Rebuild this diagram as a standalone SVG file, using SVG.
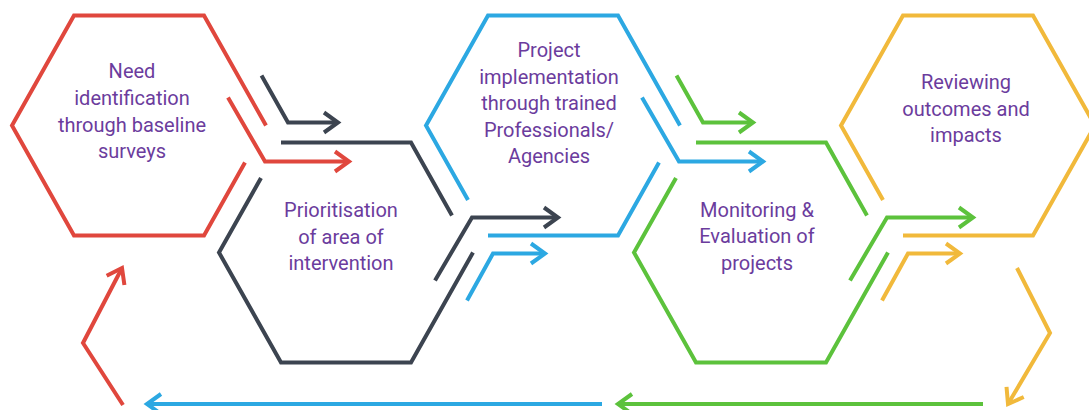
<svg xmlns="http://www.w3.org/2000/svg" width="1089" height="410" viewBox="0 0 1089 410">
<style>
.hx{fill:none;stroke-width:4;stroke-linejoin:miter}
.ar{fill:none;stroke-width:4;stroke-linejoin:miter}
.red{stroke:#e0473d}
.dark{stroke:#3c4450}
.blue{stroke:#2ca8e2}
.green{stroke:#5cc23c}
.yellow{stroke:#f1b93b}
text{font-family:Roboto,"Liberation Sans",sans-serif;font-size:20px;fill:#6b3c9d;text-anchor:middle}
</style>
<defs>
<marker id="mRed" markerUnits="userSpaceOnUse" markerWidth="30" markerHeight="30" viewBox="-20 -15 30 30" refX="0" refY="0" orient="auto" overflow="visible"><path d="M-14,-10 L0,0 L-14,10" fill="none" stroke="#e0473d" stroke-width="4"/></marker>
<marker id="mDark" markerUnits="userSpaceOnUse" markerWidth="30" markerHeight="30" viewBox="-20 -15 30 30" refX="0" refY="0" orient="auto" overflow="visible"><path d="M-14,-10 L0,0 L-14,10" fill="none" stroke="#3c4450" stroke-width="4"/></marker>
<marker id="mBlue" markerUnits="userSpaceOnUse" markerWidth="30" markerHeight="30" viewBox="-20 -15 30 30" refX="0" refY="0" orient="auto" overflow="visible"><path d="M-14,-10 L0,0 L-14,10" fill="none" stroke="#2ca8e2" stroke-width="4"/></marker>
<marker id="mGreen" markerUnits="userSpaceOnUse" markerWidth="30" markerHeight="30" viewBox="-20 -15 30 30" refX="0" refY="0" orient="auto" overflow="visible"><path d="M-14,-10 L0,0 L-14,10" fill="none" stroke="#5cc23c" stroke-width="4"/></marker>
<marker id="mYellow" markerUnits="userSpaceOnUse" markerWidth="30" markerHeight="30" viewBox="-20 -15 30 30" refX="0" refY="0" orient="auto" overflow="visible"><path d="M-14,-10 L0,0 L-14,10" fill="none" stroke="#f1b93b" stroke-width="4"/></marker>
</defs>
<rect width="1089" height="410" fill="#ffffff"/>

<g id="node-need">
<g transform="translate(139,125.5)">
<path class="hx red" d="M106,37 L65,110 L-65,110 L-127,0 L-65,-110 L65,-110 L127,0"/>
</g>
<text x="132" y="78">Need</text>
<text x="132" y="105">identification</text>
<text x="132" y="132">through baseline</text>
<text x="132" y="158">surveys</text>
</g>

<g id="node-prioritisation">
<g transform="translate(346,252.5)">
<path class="hx dark" d="M127,0 L65,110 L-65,110 L-127,0 L-85,-74.5"/>
<path class="hx dark" d="M-65,-110 L65,-110 L106,-37"/>
</g>
<text x="341" y="217">Prioritisation</text>
<text x="341" y="243.5">of area of</text>
<text x="341" y="270">intervention</text>
</g>

<g id="node-implementation">
<g transform="translate(553,125.5)">
<path class="hx blue" d="M106,37 L65,110 L-65,110"/>
<path class="hx blue" d="M-85,74.5 L-127,0 L-65,-110 L65,-110 L127,0"/>
</g>
<text x="549" y="57">Project</text>
<text x="549" y="83.5">implementation</text>
<text x="549" y="110">through trained</text>
<text x="549" y="136.5">Professionals/</text>
<text x="549" y="163">Agencies</text>
</g>

<g id="node-monitoring">
<g transform="translate(761,252.5)">
<path class="hx green" d="M127,0 L65,110 L-65,110 L-127,0 L-85,-74.5"/>
<path class="hx green" d="M-65,-110 L65,-110 L106,-37"/>
</g>
<text x="757" y="216.5">Monitoring &amp;</text>
<text x="757" y="243">Evaluation of</text>
<text x="757" y="269.5">projects</text>
</g>

<g id="node-reviewing">
<g transform="translate(968,125.5)">
<path class="hx yellow" d="M-65,110 L65,110 L127,0 L65,-110 L-65,-110 L-127,0 L-85,74.5"/>
</g>
<text x="966" y="89">Reviewing</text>
<text x="966" y="115.5">outcomes and</text>
<text x="966" y="142">impacts</text>
</g>

<g id="connectors">
<path class="ar red" marker-end="url(#mRed)" d="M228,97.5 L265,161.5 L349,161.5"/>
<path class="ar dark" marker-end="url(#mDark)" d="M261.5,75.5 L288,122.5 L338,122.5"/>
<path class="ar dark" marker-end="url(#mDark)" d="M435,280.5 L472,217.5 L558,217.5"/>
<path class="ar blue" marker-end="url(#mBlue)" d="M467,300.5 L493,253.5 L545,253.5"/>
<path class="ar blue" marker-end="url(#mBlue)" d="M642,97.5 L679,161.5 L763,161.5"/>
<path class="ar green" marker-end="url(#mGreen)" d="M676.5,75.5 L703,122.5 L753,122.5"/>
<path class="ar green" marker-end="url(#mGreen)" d="M850,280.5 L887,217.5 L973,217.5"/>
<path class="ar yellow" marker-end="url(#mYellow)" d="M882,300.5 L908,253.5 L960,253.5"/>
<path class="ar yellow" marker-end="url(#mYellow)" d="M1017,268 L1050,333 L1008,404"/>
<path class="ar green" marker-end="url(#mGreen)" d="M983,404 L618,404"/>
<path class="ar blue" marker-end="url(#mBlue)" d="M602,404 L147,404"/>
<path class="ar red" marker-end="url(#mRed)" d="M123,405 L83,343 L122,268"/>
</g>
</svg>
